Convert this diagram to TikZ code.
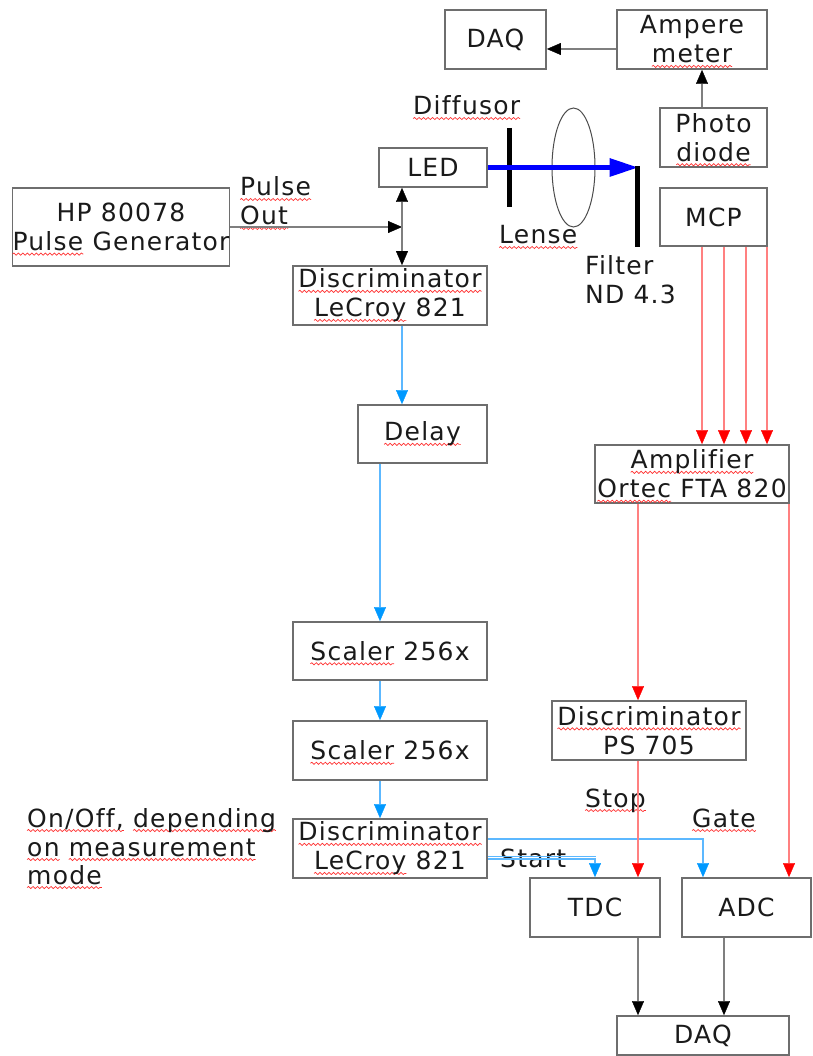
\documentclass[tikz,border=0pt]{standalone}
\usepackage{fontspec}
\setmainfont{DejaVu Sans}[LetterSpace=5,Ligatures=NoCommon]
\usetikzlibrary{arrows.meta,decorations.pathmorphing,calc}
\definecolor{boxgray}{HTML}{6E6E6E}
\definecolor{lingray}{HTML}{7F7F7F}
\definecolor{redl}{HTML}{FF8080}
\definecolor{bluel}{HTML}{5CB8FF}
\definecolor{blueh}{HTML}{0099FF}
\definecolor{beamblue}{HTML}{0000FF}
\definecolor{txt}{HTML}{1A1A1A}
\definecolor{sqred}{HTML}{FF3030}
\newsavebox\sqbox
\newdimen\sqwd
\newcommand\sq[1]{\sbox\sqbox{#1}\sqwd=\wd\sqbox\rlap{\tikz[overlay,x=1pt,y=1pt,baseline=0pt]\draw[sqred,line width=0.7pt,decorate,decoration={snake,amplitude=1.1pt,segment length=4.5pt}] (0pt,-3.5pt) -- (\sqwd,-3.5pt);}\usebox\sqbox}
\begin{document}
\begin{tikzpicture}[x=1pt,y=-1pt,
  every node/.append style={font=\fontsize{25}{29}\selectfont},
  box/.style={draw=boxgray,line width=1.8pt,inner sep=0pt,align=center,text=txt},
  lbl/.style={inner sep=0pt,anchor=base west,text=txt},
  garr/.style={draw=lingray,line width=1.5pt,-{Triangle[width=12pt,length=14pt,color=black,line width=0.3pt]}},
  rarr/.style={draw=redl,line width=1.5pt,-{Triangle[width=12pt,length=14pt,color=red,line width=0.3pt]}},
  barr/.style={draw=bluel,line width=1.5pt,-{Triangle[width=12pt,length=14pt,color=blueh,line width=0.3pt]}},
]
\useasboundingbox[fill=white] (0,0) rectangle (812,1056);

% boxes
\node[box,minimum width=101,minimum height=59] (daqT) at (495.5,39.5) {DAQ};
\node[box,minimum width=150,minimum height=59] (ampm) at (692,39.5) {Ampere\\\sq{meter}};
\node[box,minimum width=107,minimum height=59] (photo) at (713.5,137.5) {Photo\\\sq{diode}};
\node[box,minimum width=108,minimum height=39] (led) at (433,167.5) {LED};
\node[box,minimum width=107,minimum height=58] (mcp) at (713.5,217) {MCP};
\node[box,minimum width=216,minimum height=78] (hp) at (121,227) {HP 80078\\\sq{Pulse} Generator};
\node[box,minimum width=194,minimum height=59] (disc1) at (390,295.5) {\sq{Discriminator}\\\sq{LeCroy} 821};
\node[box,minimum width=129,minimum height=58] (delay) at (422.5,434) {\sq{Delay}};
\node[box,minimum width=194,minimum height=58] (ampl) at (692,474) {\sq{Amplifier}\\\sq{Ortec} FTA 820};
\node[box,minimum width=194,minimum height=58] (scal1) at (390,651) {\sq{Scaler} 256x};
\node[box,minimum width=194,minimum height=59] (disc3) at (649,730.5) {\sq{Discriminator}\\PS 705};
\node[box,minimum width=194,minimum height=59] (scal2) at (390,750.5) {\sq{Scaler} 256x};
\node[box,minimum width=194,minimum height=59] (disc2) at (390,848.5) {\sq{Discriminator}\\\sq{LeCroy} 821};
\node[box,minimum width=130,minimum height=59] (tdc) at (595,907.5) {TDC};
\node[box,minimum width=129,minimum height=59] (adc) at (746.5,907.5) {ADC};
\node[box,minimum width=172,minimum height=39] (daqB) at (703,1035.5) {DAQ};

% labels
\node[lbl] (pulse1) at (240,196) {\sq{Pulse}};
\node[lbl] (pulse2) at (240,225) {\sq{Out}};
\node[lbl] (diffl) at (413,115) {\sq{Diffusor}};
\node[lbl] (lensel) at (499,244) {\sq{Lense}};
\node[lbl] (filt1) at (585,275) {Filter};
\node[lbl] (filt2) at (585,303) {ND 4.3};
\node[lbl] (onoff1) at (27,827) {\sq{On/Off,} \sq{depending}};
\node[lbl] (onoff2) at (27,856) {\sq{on} \sq{measurement}};
\node[lbl] (onoff3) at (27,884) {\sq{mode}};
\node[lbl] (stopl) at (585,807) {\sq{Stop}};
\node[lbl] (gatel) at (692,827) {\sq{Gate}};
\node[lbl] (startl) at (500,867) {Start};

% optics
\coordinate (ftop) at (637.5,167.5);
\draw[line width=5pt] (509,128) -- (509,207);
\draw[line width=1pt,black!70] (573.5,167.5) ellipse [x radius=21.5, y radius=59.5];
\draw[line width=5pt,beamblue,-{Triangle[width=19pt,length=28pt,line width=0pt]}] (led.east) -- (ftop);
\draw[line width=5pt] ([yshift=1pt]ftop) -- (637.5,247);

% gray/black connectors
\draw[garr] (ampm.west |- 0,49) -- (daqT.east |- 0,49);
\draw[garr] (photo.north -| 702,0) -- (ampm.south -| 702,0);
\coordinate (jn) at (402,227);
\draw[garr] (hp.east |- jn) -- (jn);
\draw[garr] (jn) -- (led.south -| jn);
\draw[garr] (jn) -- (disc1.north -| jn);
\draw[garr] (tdc.south -| 638,0) -- (daqB.north -| 638,0);
\draw[garr] (adc.south -| 724,0) -- (daqB.north -| 724,0);

% blue connectors
\draw[barr] (disc1.south -| 402,0) -- (delay.north -| 402,0);
\draw[barr] (delay.south -| 380,0) -- (scal1.north -| 380,0);
\draw[barr] (scal1.south -| 380,0) -- (scal2.north -| 380,0);
\draw[barr] (scal2.south -| 380,0) -- (disc2.north -| 380,0);
\draw[barr] (disc2.east |- 0,839) -| (adc.north -| 703,0);
\draw[bluel,line width=1.2pt] (disc2.east |- 0,856.5) -- (596,856.5);
\draw[barr] (disc2.east |- 0,859) -| (tdc.north);

% red connectors
\foreach \xx in {702,724,746,767} \draw[rarr] (mcp.south -| \xx,0) -- (ampl.north -| \xx,0);
\draw[rarr] (ampl.south -| 638,0) -- (disc3.north -| 638,0);
\draw[rarr] (ampl.south -| 789,0) -- (adc.north -| 789,0);
\draw[rarr] (disc3.south -| 638,0) -- (tdc.north -| 638,0);
\end{tikzpicture}
\end{document}
